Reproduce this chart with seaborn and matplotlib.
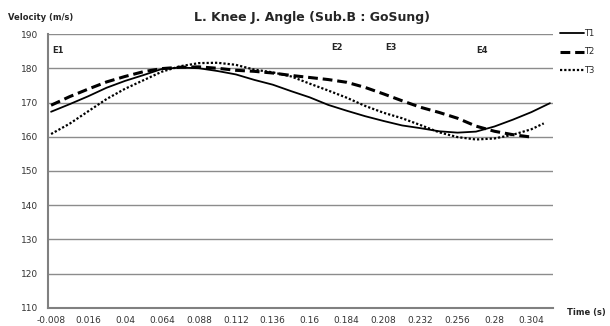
import pandas as pd
import matplotlib
matplotlib.use("Agg")
import matplotlib.pyplot as plt
import seaborn as sns

# values
t1_time = [-0.008, 0.004, 0.016, 0.028, 0.040, 0.052, 0.064, 0.076, 0.088, 0.100,
           0.112, 0.124, 0.136, 0.148, 0.160, 0.172, 0.184, 0.196, 0.208, 0.220,
           0.232, 0.244, 0.256, 0.268, 0.280, 0.292, 0.304, 0.316]
t1_angle = [167.3, 169.5, 171.8, 174.3, 176.3, 178.0, 179.8, 180.2, 180.0, 179.2,
            178.2, 176.6, 175.2, 173.3, 171.5, 169.3, 167.6, 166.0, 164.6, 163.3,
            162.5, 161.6, 161.2, 161.5, 163.0, 165.0, 167.2, 169.8]

t2_time = [-0.008, 0.004, 0.016, 0.028, 0.040, 0.052, 0.064, 0.076, 0.088, 0.100,
           0.112, 0.124, 0.136, 0.148, 0.160, 0.172, 0.184, 0.196, 0.208, 0.220,
           0.232, 0.244, 0.256, 0.268, 0.280, 0.292, 0.304]
t2_angle = [169.2, 171.7, 173.9, 176.0, 177.6, 179.0, 179.9, 180.3, 180.4, 180.0,
            179.4, 179.1, 178.6, 177.9, 177.3, 176.7, 175.9, 174.4, 172.5, 170.5,
            168.6, 167.1, 165.4, 163.1, 161.6, 160.6, 159.9]

t3_time = [-0.008, 0.004, 0.016, 0.028, 0.040, 0.052, 0.064, 0.076, 0.088, 0.100,
           0.112, 0.124, 0.136, 0.148, 0.160, 0.172, 0.184, 0.196, 0.208, 0.220,
           0.232, 0.244, 0.256, 0.268, 0.280, 0.292, 0.304, 0.312]
t3_angle = [160.8, 163.8, 167.4, 171.0, 174.0, 176.5, 179.0, 180.6, 181.5, 181.6,
            181.0, 179.6, 178.8, 177.6, 175.5, 173.5, 171.4, 169.0, 167.0, 165.4,
            163.4, 161.3, 159.9, 159.2, 159.5, 160.6, 162.2, 163.9]

x_ticks = [-0.008, 0.016, 0.04, 0.064, 0.088, 0.112, 0.136, 0.16, 0.184,
           0.208, 0.232, 0.256, 0.28, 0.304]
x_tick_labels = ["-0.008", "0.016", "0.04", "0.064", "0.088", "0.112", "0.136",
                 "0.16", "0.184", "0.208", "0.232", "0.256", "0.28", "0.304"]
event_labels = ["E1", "E2", "E3", "E4"]
event_time = [-0.0035, 0.1777, 0.2127, 0.2718]
event_angle = [185.3, 186.2, 186.2, 185.3]

df = pd.concat([
    pd.DataFrame({"time": t1_time, "angle": t1_angle, "trial": "T1"}),
    pd.DataFrame({"time": t2_time, "angle": t2_angle, "trial": "T2"}),
    pd.DataFrame({"time": t3_time, "angle": t3_angle, "trial": "T3"}),
])

sns.set_style("white")
plt.rcParams["font.family"] = ["DejaVu Sans"]

fig = plt.figure(figsize=(6.1, 3.26), dpi=100)
ax = fig.add_axes([48 / 610, 1 - 308 / 326, (553 - 48) / 610, (308 - 34) / 326])

line_styles = {"T1": ("-", 1.3), "T2": ((0, (3.2, 1.6)), 2.2), "T3": ((0, (1, 0.9)), 1.6)}
for name, grp in df.groupby("trial"):
    ls, lw = line_styles[name]
    sns.lineplot(data=grp, x="time", y="angle", ax=ax, color="black",
                 linestyle=ls, linewidth=lw, label=name, sort=False)

ax.set_xlim(-0.010, 0.318)
ax.set_ylim(110, 190)
ax.set_yticks(range(110, 191, 10))
ax.set_xticks(x_ticks)
ax.set_xticklabels(x_tick_labels)
ax.set_xticks([-0.010 + 0.004 * i for i in range(83)], minor=True)
ax.grid(axis="y", color="#8c8c8c", linewidth=1.0)
ax.set_axisbelow(True)
for s in ["top", "right"]:
    ax.spines[s].set_visible(False)
for s in ["left", "bottom"]:
    ax.spines[s].set_color("#808080")
    ax.spines[s].set_linewidth(1.5)
ax.tick_params(axis="x", which="minor", length=3, color="#808080", width=1)
ax.tick_params(axis="x", which="major", length=0, labelsize=6.5, colors="#333333", pad=6)
ax.tick_params(axis="y", which="major", length=3, color="#808080", width=1,
               labelsize=6.5, labelcolor="#333333", pad=4)
ax.set_xlabel("")
ax.set_ylabel("")

for lab, tx, ty in zip(event_labels, event_time, event_angle):
    ax.text(tx, ty, lab, fontsize=6, fontweight="bold", ha="center", va="center")

fig.text(312 / 610, 1 - 18 / 326, "L. Knee J. Angle (Sub.B : GoSung)",
         fontsize=9, fontweight="bold", ha="center", va="center")
fig.text(8 / 610, 1 - 18 / 326, "Velocity (m/s)", fontsize=6,
         fontweight="bold", ha="left", va="center")
fig.text(606 / 610, 1 - 312 / 326, "Time (s)", fontsize=6,
         fontweight="bold", ha="right", va="center")

ax.get_legend().remove()
handles, labels = ax.get_legend_handles_labels()
fig.legend(handles, labels, loc="upper left", bbox_to_anchor=(557 / 610, 1 - 26 / 326),
           frameon=False, fontsize=6, handlelength=2.8, handletextpad=0.1,
           labelspacing=1.1, borderaxespad=0)

fig.savefig("out.png", dpi=100)
